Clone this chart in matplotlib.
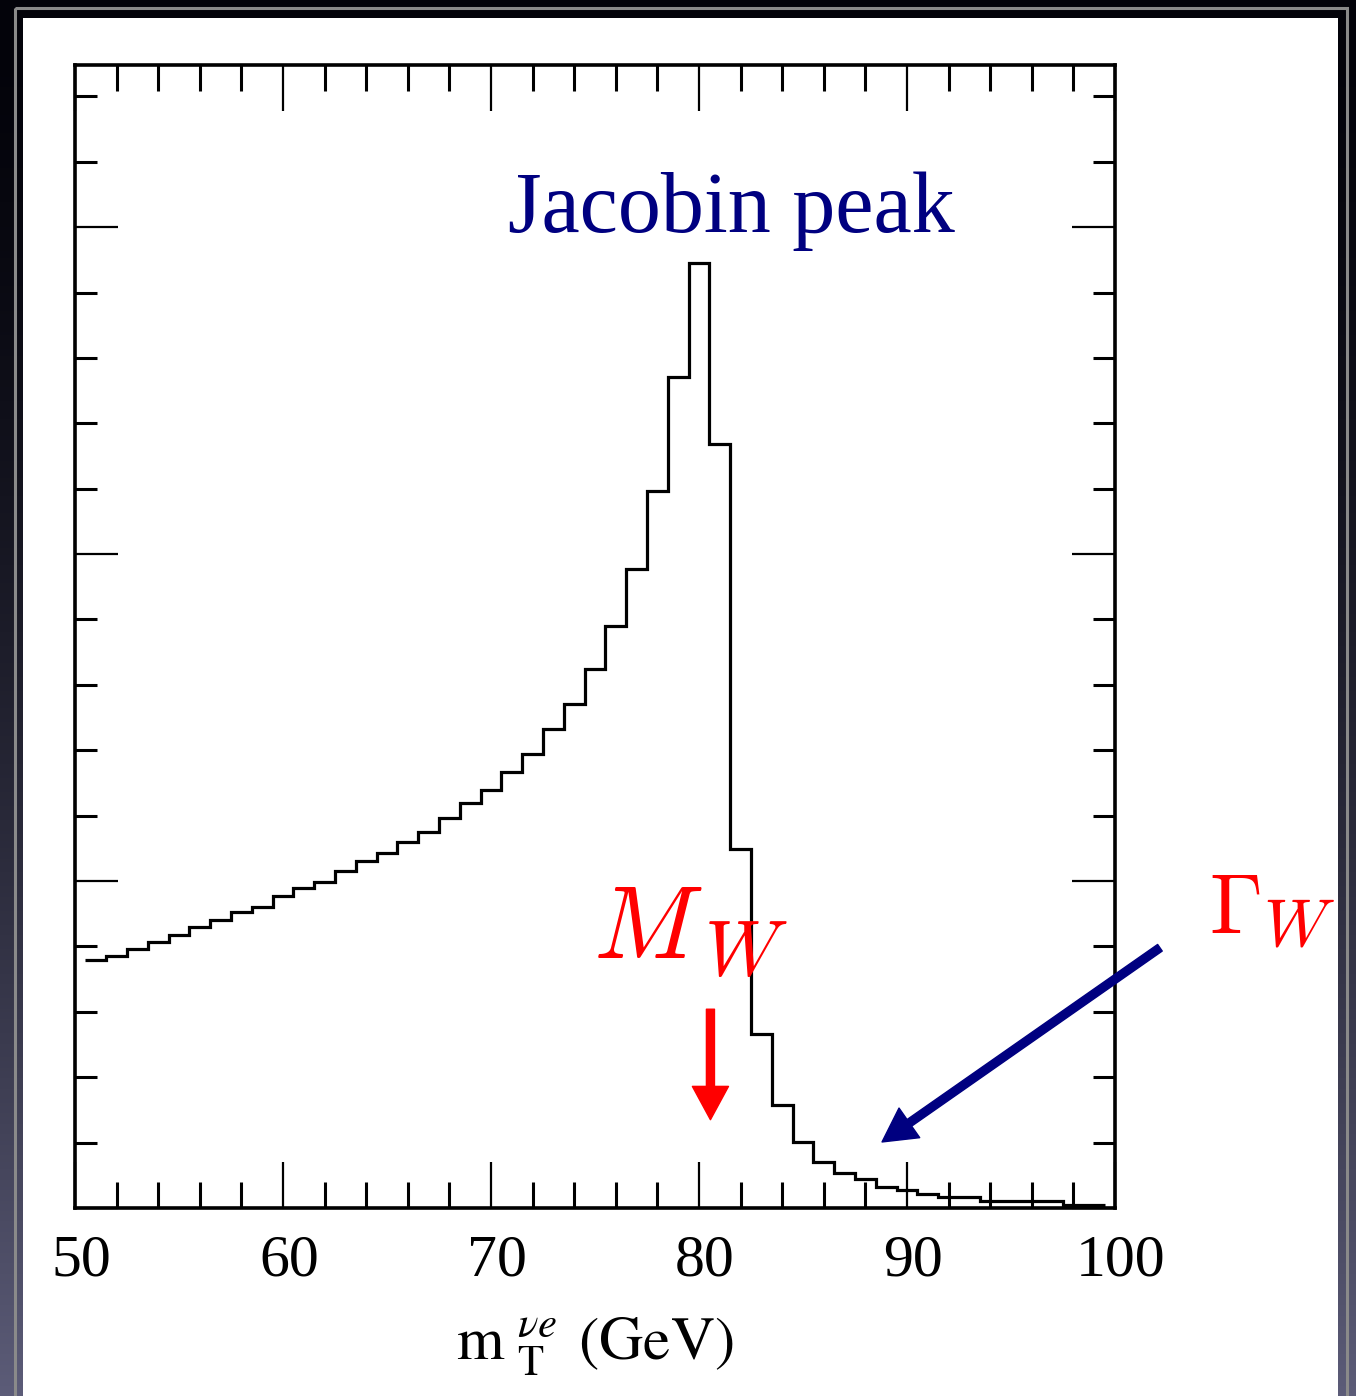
import numpy as np
import matplotlib
matplotlib.use("Agg")
import matplotlib.pyplot as plt
from matplotlib.patches import Rectangle
from matplotlib.transforms import ScaledTranslation

plt.rcParams['font.family'] = 'serif'
plt.rcParams['font.serif'] = ['Liberation Serif', 'DejaVu Serif']
plt.rcParams['mathtext.fontset'] = 'stix'

# histogram of transverse mass, 1 GeV bins centred on integers
bin_edges = [50.5, 51.5, 52.5, 53.5, 54.5, 55.5, 56.5, 57.5, 58.5, 59.5,
             60.5, 61.5, 62.5, 63.5, 64.5, 65.5, 66.5, 67.5, 68.5, 69.5,
             70.5, 71.5, 72.5, 73.5, 74.5, 75.5, 76.5, 77.5, 78.5, 79.5,
             80.5, 81.5, 82.5, 83.5, 84.5, 85.5, 86.5, 87.5, 88.5, 89.5,
             90.5, 91.5, 92.5, 93.5, 94.5, 95.5, 96.5, 97.5, 98.5, 99.5]
counts = [3.79, 3.85, 3.96, 4.07, 4.17, 4.29, 4.40, 4.52, 4.61, 4.77,
          4.89, 4.99, 5.15, 5.31, 5.43, 5.60, 5.75, 5.96, 6.19, 6.39,
          6.67, 6.94, 7.32, 7.71, 8.24, 8.90, 9.77, 10.96, 12.71, 14.45,
          11.68, 5.49, 2.66, 1.57, 1.01, 0.70, 0.54, 0.44, 0.32, 0.28,
          0.21, 0.17, 0.17, 0.11, 0.11, 0.11, 0.11, 0.05, 0.05]

x_major = [50, 60, 70, 80, 90, 100]
x_labels = ["50", "60", "70", "80", "90", "100"]

W, H = 1356, 1396
fig = plt.figure(figsize=(W / 100, H / 100), dpi=100)

# slide background: dark gradient, grey frame, white panel
bg = fig.add_axes([0, 0, 1, 1], zorder=-10)
t = np.linspace(0, 1, 400)[:, None] ** 1.6
top_c = np.array([3, 3, 10]) / 255
bot_c = np.array([92, 92, 120]) / 255
grad = top_c + (bot_c - top_c) * t[..., None]
grad = np.repeat(grad, 2, axis=1)
bg.imshow(grad, extent=[0, W, H, 0], aspect='auto')
bg.add_patch(Rectangle((14.5, 8), 1332, 1400, fill=False, ec='#8a8a8a', lw=2.2))
bg.add_patch(Rectangle((23, 18), 1315, 1390, fc='white', ec='none'))
bg.set_xlim(0, W)
bg.set_ylim(H, 0)
bg.axis('off')

ax = fig.add_axes([75 / W, 1 - 1208 / H, 1040 / W, 1143 / H])
ax.stairs(counts, bin_edges, baseline=None, color='black', lw=2.3)

ax.set_xlim(50, 100)
ax.set_ylim(0, 17.48)
ax.set_xticks(x_major)
ax.set_xticklabels(x_labels)
ax.set_xticks(np.arange(52, 100, 2), minor=True)
ax.set_yticks([0, 5, 10, 15])
ax.set_yticks(np.arange(1, 18, 1), minor=True)
ax.set_yticklabels([])
ax.tick_params(axis='x', which='both', direction='in', top=True, bottom=True,
               labelsize=43, pad=19)
ax.tick_params(axis='y', which='both', direction='in', left=True, right=True)
ax.tick_params(axis='x', which='major', length=33, width=1.6)
ax.tick_params(axis='x', which='minor', length=19, width=2.2)
ax.tick_params(axis='y', which='major', length=31, width=1.6)
ax.tick_params(axis='y', which='minor', length=16, width=2.2)
for s in ax.spines.values():
    s.set_linewidth(2.6)
shift = ScaledTranslation(6 / 100, 0, fig.dpi_scale_trans)
for lab in ax.get_xticklabels():
    lab.set_transform(lab.get_transform() + shift)

ax.set_xlabel(r'$\mathrm{m}\,{}_{\,\mathrm{T}}^{\,\nu e}\;\,\mathrm{(GeV)}$',
              fontsize=44, labelpad=20)

ax.text(70.8, 14.92, "Jacobin peak", color='#000080', fontsize=62,
        ha='left', va='baseline')

# M_W and Gamma_W, main symbol and subscript set separately
ax.text(74.9, 3.82, r'$M$', color='#ff0000', fontsize=74, math_fontfamily='cm',
        ha='left', va='baseline')
ax.text(80.25, 3.56, r'$W$', color='#ff0000', fontsize=56, math_fontfamily='cm',
        ha='left', va='baseline')
ax.text(104.5, 4.2, r'$\Gamma$', color='#ff0000', fontsize=61, math_fontfamily='cm',
        ha='left', va='baseline', clip_on=False)
ax.text(107.1, 4.02, r'$W$', color='#ff0000', fontsize=48, math_fontfamily='cm',
        ha='left', va='baseline', clip_on=False)

arrow_style = 'simple,head_length=1.2,head_width=1.3,tail_width=0.29'
ax.annotate('', xy=(80.55, 1.35), xytext=(80.55, 3.04),
            arrowprops=dict(arrowstyle=arrow_style, mutation_scale=20,
                            color='#ff0000', shrinkA=0, shrinkB=0))
ax.annotate('', xy=(88.8, 1.01), xytext=(102.16, 3.98),
            arrowprops=dict(arrowstyle=arrow_style, mutation_scale=20,
                            color='#000080', shrinkA=0, shrinkB=0),
            annotation_clip=False)

fig.savefig("out.png", dpi=100)
